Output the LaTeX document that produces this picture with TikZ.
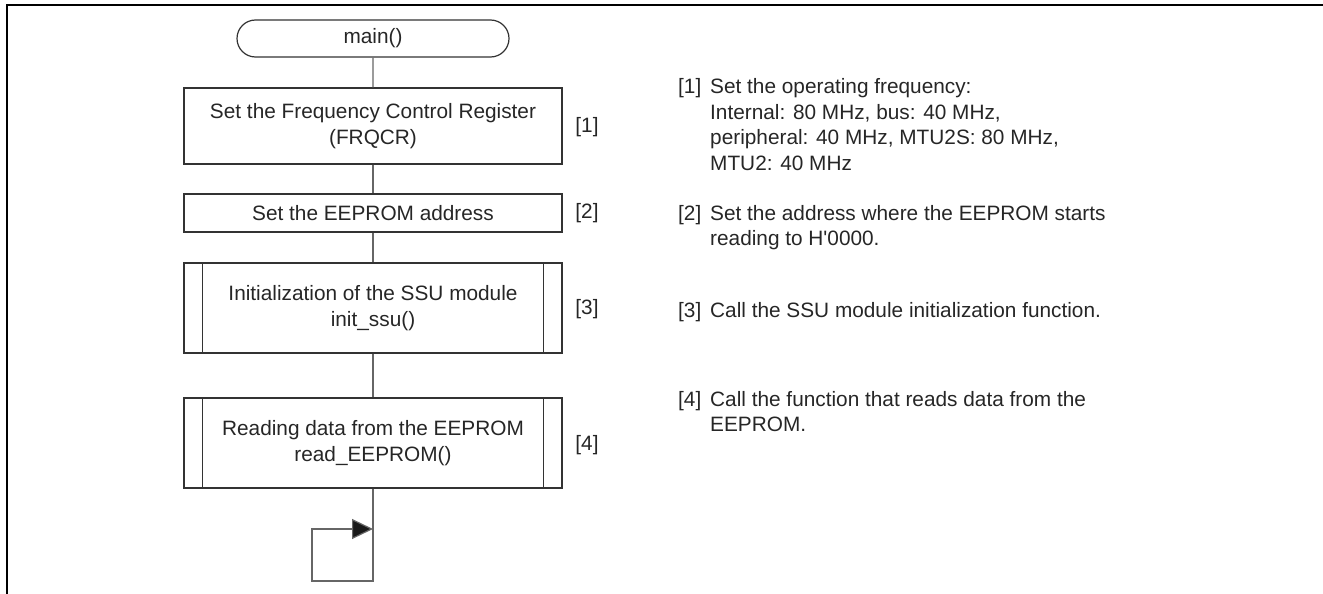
\documentclass[tikz,border=0pt]{standalone}
\usepackage{fontspec}
\setmainfont{Liberation Sans}
\usetikzlibrary{positioning,shapes.misc,arrows.meta}

\begin{document}
\begin{tikzpicture}[x=1pt, y=-1pt,
	every node/.style={font=\fontsize{20.8}{25.5}\selectfont, text=black!85},
	terminal/.style={draw=black!80, line width=1.2pt, rounded rectangle, minimum width=272pt, minimum height=37pt, inner sep=0pt},
	procbox/.style={draw=black!80, line width=1.2pt, minimum width=378pt, align=center, inner sep=0pt},
	flow/.style={draw=black!60, line width=1.2pt},
	tag/.style={inner sep=0pt},
	note/.style={anchor=base west, inner sep=0pt}]

\useasboundingbox (0,0) rectangle (1323,594);
\draw[line width=2.5pt] (7,594) |- (1323,5);

% flow chart
\node[terminal] (main) at (373, 38.5) {main()};
\node[procbox, minimum height=76pt] (b1) at (373, 126) {Set the Frequency Control Register\\(FRQCR)};
\node[procbox, minimum height=38pt] (b2) at (373, 213) {Set the EEPROM address};
\node[procbox, minimum height=90pt] (b3) at (373, 308) {Initialization of the SSU module\\init\_ssu()};
\node[procbox, minimum height=90pt] (b4) at (373, 443) {Reading data from the EEPROM\\read\_EEPROM()};
\foreach \n in {b3,b4}{
	\draw[draw=black!80, line width=1.2pt] ([xshift=19pt]\n.north west) -- ([xshift=19pt]\n.south west);
	\draw[draw=black!80, line width=1.2pt] ([xshift=-19pt]\n.north east) -- ([xshift=-19pt]\n.south east);
}
\foreach \a/\b in {main/b1, b1/b2, b2/b3, b3/b4}
	\draw[flow] (\a) -- (\b);

% endless loop
\coordinate (lb) at (373, 581);
\coordinate (lt) at (312, 529);
\coordinate (la) at (373, 529);
\draw[flow, -{Triangle[length=21pt, width=20pt, fill=black!90]}] (b4) -- (lb) -| (lt) -- (la);

% step numbers
\node[tag] (s1) at (587, 127) {[1]};
\node[tag] (s2) at (587, 213) {[2]};
\node[tag] (s3) at (587, 309) {[3]};
\node[tag] (s4) at (587, 445) {[4]};

% notes
\node[note] (n1) at (678, 94) {\begin{tabular}[t]{@{}p{32pt}@{}l@{}}
	[1] & Set the operating frequency:\\
	& Internal: 80 MHz, bus: 40 MHz,\\
	& peripheral: 40 MHz, MTU2S: 80 MHz,\\
	& MTU2: 40 MHz
\end{tabular}};
\node[note] (n2) at (678, 220) {\begin{tabular}[t]{@{}p{32pt}@{}l@{}}
	[2] & Set the address where the EEPROM starts\\
	& reading to H\textquotesingle 0000.
\end{tabular}};
\node[note] (n3) at (678, 317) {\begin{tabular}[t]{@{}p{32pt}@{}l@{}}
	[3] & Call the SSU module initialization function.
\end{tabular}};
\node[note] (n4) at (678, 406) {\begin{tabular}[t]{@{}p{32pt}@{}l@{}}
	[4] & Call the function that reads data from the\\
	& EEPROM.
\end{tabular}};

\end{tikzpicture}
\end{document}
